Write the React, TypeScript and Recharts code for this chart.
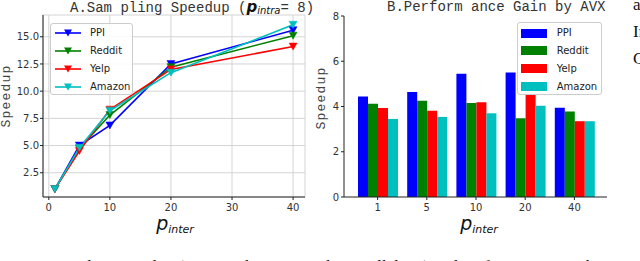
import { LineChart, Line, BarChart, Bar, XAxis, YAxis, CartesianGrid } from "recharts";

// p_inter values shared by both panels
const pInter = [1, 5, 10, 20, 40];
const seriesNames = ["PPI", "Reddit", "Yelp", "Amazon"];
const seriesColors = ["#0000ff", "#008000", "#ff0000", "#00bfbf"];

// A. sampling speedup (p_intra = 8)
const samplingPPI = [1.0, 5.0, 6.85, 12.5, 15.6];
const samplingReddit = [1.0, 4.7, 7.8, 12.2, 15.1];
const samplingYelp = [1.0, 4.5, 8.3, 12.0, 14.1];
const samplingAmazon = [1.0, 4.8, 8.2, 11.7, 16.1];

// B. performance gain by AVX
const avxPPI = [4.44, 4.64, 5.45, 5.5, 3.94];
const avxReddit = [4.12, 4.25, 4.16, 3.48, 3.78];
const avxYelp = [3.93, 3.81, 4.19, 4.52, 3.35];
const avxAmazon = [3.45, 3.54, 3.7, 4.03, 3.35];

const speedupTicks = [2.5, 5, 7.5, 10, 12.5, 15];
const pInterTicks = [0, 10, 20, 30, 40];
const gainTicks = [0, 2, 4, 6, 8];

const samplingData = pInter.map((p, i) => ({
    p,
    PPI: samplingPPI[i],
    Reddit: samplingReddit[i],
    Yelp: samplingYelp[i],
    Amazon: samplingAmazon[i],
}));

const avxData = pInter.map((p, i) => ({
    p: String(p),
    PPI: avxPPI[i],
    Reddit: avxReddit[i],
    Yelp: avxYelp[i],
    Amazon: avxAmazon[i],
}));

const sans = "'DejaVu Sans', sans-serif";
const mono = "'Liberation Mono', 'DejaVu Sans Mono', monospace";
const tickStyle = { fill: "#333", fontSize: 10, fontFamily: sans };
const spine = "#222";

function triangleDot(props) {
    const { cx, cy, stroke, index } = props;
    if (cx == null || cy == null) return <g key={index} />;
    return (
        <polygon
            key={index}
            points={`${cx - 4},${cy - 3.5} ${cx + 4},${cy - 3.5} ${cx},${cy + 3.5}`}
            fill={stroke}
            stroke={stroke}
            strokeWidth={0.5}
        />
    );
}

function LineLegend() {
    return (
        <div style={{
            position: "absolute",
            left: 50,
            top: 22.7,
            width: 83,
            height: 72,
            border: "1px solid #ccc",
            borderRadius: 3,
            background: "rgba(255,255,255,0.85)",
            boxSizing: "border-box",
        }}>
            {seriesNames.map((name, i) => (
                <div key={name} style={{position: "absolute", left: 0, top: 9.5 + i * 17.8 - 6, height: 12, width: 83}}>
                    <svg width={30} height={12} style={{position: "absolute", left: 3, top: 0}}>
                        <line x1={1} x2={27} y1={6} y2={6} stroke={seriesColors[i]} strokeWidth={1.6} />
                        <polygon points="10,2.5 18,2.5 14,9.5" fill={seriesColors[i]} />
                    </svg>
                    <span style={{position: "absolute", left: 39, top: -1, fontFamily: sans, fontSize: 10, color: "#222", lineHeight: "14px"}}>
                        {name}
                    </span>
                </div>
            ))}
        </div>
    );
}

function BarLegend() {
    return (
        <div style={{
            position: "absolute",
            left: 516.7,
            top: 21.7,
            width: 85,
            height: 73,
            border: "1px solid #ccc",
            borderRadius: 3,
            background: "rgba(255,255,255,0.85)",
            boxSizing: "border-box",
        }}>
            {seriesNames.map((name, i) => (
                <div key={name} style={{position: "absolute", left: 0, top: 10.5 + i * 17.8 - 6, height: 12, width: 85}}>
                    <div style={{position: "absolute", left: 3.5, top: 1.5, width: 26, height: 9, background: seriesColors[i]}} />
                    <span style={{position: "absolute", left: 39, top: -1, fontFamily: sans, fontSize: 10, color: "#222", lineHeight: "14px"}}>
                        {name}
                    </span>
                </div>
            ))}
        </div>
    );
}

function PInterLabel({ center }) {
    return (
        <div style={{position: "absolute", left: center - 20, top: 212, width: 40, textAlign: "center", fontFamily: sans, fontStyle: "italic", color: "#111", whiteSpace: "nowrap"}}>
            <span style={{fontSize: 19}}>p</span>
            <span style={{fontSize: 11, position: "relative", top: 3}}>inter</span>
        </div>
    );
}

function SpeedupLabel({ cx, cy }) {
    return (
        <div style={{
            position: "absolute",
            left: cx - 40,
            top: cy - 8,
            width: 80,
            height: 16,
            lineHeight: "16px",
            textAlign: "center",
            transform: "rotate(-90deg)",
            fontFamily: mono,
            fontSize: 13,
            letterSpacing: 1.2,
            color: "#444",
        }}>
            Speedup
        </div>
    );
}

export default function App() {
    return (
        <div style={{position: "absolute", left: 0, top: 0, width: 640, height: 261, overflow: "hidden", background: "#fff"}}>
            {/* panel A */}
            <div style={{position: "absolute", left: 0, top: 0}}>
                <LineChart width={320} height={240} data={samplingData} margin={{top: 15, right: 15, left: 0, bottom: 0}}>
                    <CartesianGrid stroke="#d4d4d4" strokeWidth={1} />
                    <XAxis dataKey="p" type="number" domain={[-0.95, 41.95]} ticks={pInterTicks} allowDataOverflow
                           height={43} tick={tickStyle} tickSize={3} tickMargin={4} stroke={spine} />
                    <YAxis type="number" domain={[0.27, 17.0]} ticks={speedupTicks} allowDataOverflow width={43}
                           tick={tickStyle} tickSize={3} tickMargin={1} stroke={spine}
                           tickFormatter={(v) => v.toFixed(1)} />
                    <XAxis xAxisId="top" orientation="top" type="number" domain={[0, 1]} height={0}
                           tick={false} tickLine={false} stroke={spine} />
                    <YAxis yAxisId="right" orientation="right" type="number" domain={[0, 1]} width={0}
                           tick={false} tickLine={false} stroke={spine} />
                    {seriesNames.map((name, i) => (
                        <Line key={name} dataKey={name} stroke={seriesColors[i]} strokeWidth={1.6}
                              dot={triangleDot} activeDot={false} isAnimationActive={false} />
                    ))}
                </LineChart>
            </div>

            {/* panel B */}
            <div style={{position: "absolute", left: 300, top: 0}}>
                <BarChart width={340} height={240} data={avxData} margin={{top: 16, right: 33, left: 0, bottom: 0}}
                          barGap={0} barSize={10}>
                    <XAxis dataKey="p" padding={{left: 9, right: 8}} height={43} tick={tickStyle}
                           tickSize={3} tickMargin={4} stroke={spine} />
                    <YAxis type="number" domain={[0, 8]} ticks={gainTicks} width={44} tick={tickStyle}
                           tickSize={3} tickMargin={2} stroke={spine} />
                    <XAxis xAxisId="top" orientation="top" type="number" domain={[0, 1]} height={0}
                           tick={false} tickLine={false} stroke={spine} />
                    <YAxis yAxisId="right" orientation="right" type="number" domain={[0, 1]} width={0}
                           tick={false} tickLine={false} stroke={spine} />
                    {seriesNames.map((name, i) => (
                        <Bar key={name} dataKey={name} fill={seriesColors[i]} isAnimationActive={false} />
                    ))}
                </BarChart>
            </div>

            <LineLegend />
            <BarLegend />

            {/* titles */}
            <div style={{position: "absolute", left: 70, top: -1, fontFamily: mono, fontSize: 14, color: "#333", whiteSpace: "nowrap", lineHeight: "16px"}}>
                A.Sam pling Speedup (
                <span style={{fontFamily: sans, fontStyle: "italic", fontWeight: "bold", fontSize: 15, color: "#111"}}>p</span>
                <span style={{fontFamily: sans, fontStyle: "italic", fontSize: 10, color: "#111", position: "relative", top: 2}}>intra</span>
                = 8)
            </div>
            <div style={{position: "absolute", left: 387, top: -1, fontFamily: mono, fontSize: 14, color: "#333", whiteSpace: "nowrap", lineHeight: "16px"}}>
                B.Perform ance Gain by AVX
            </div>

            <SpeedupLabel cx={7} cy={96} />
            <SpeedupLabel cx={322} cy={97.5} />
            <PInterLabel center={175} />
            <PInterLabel center={479} />

            {/* neighbouring text column and caption, clipped by the page crop */}
            <div style={{position: "absolute", left: 633, top: -9, fontFamily: "'Liberation Serif', serif", fontSize: 17, lineHeight: "27px", color: "#111"}}>
                <div>an</div>
                <div>In</div>
                <div>Co</div>
            </div>
            <div style={{position: "absolute", left: 0, top: 257, fontFamily: "'Liberation Serif', serif", fontSize: 17, color: "#111", whiteSpace: "nowrap", lineHeight: "20px"}}>
                Fig. 4: Sampling speedup (inter- and intra-sampler parallelism) and performance gain by AVX
            </div>
        </div>
    );
}
